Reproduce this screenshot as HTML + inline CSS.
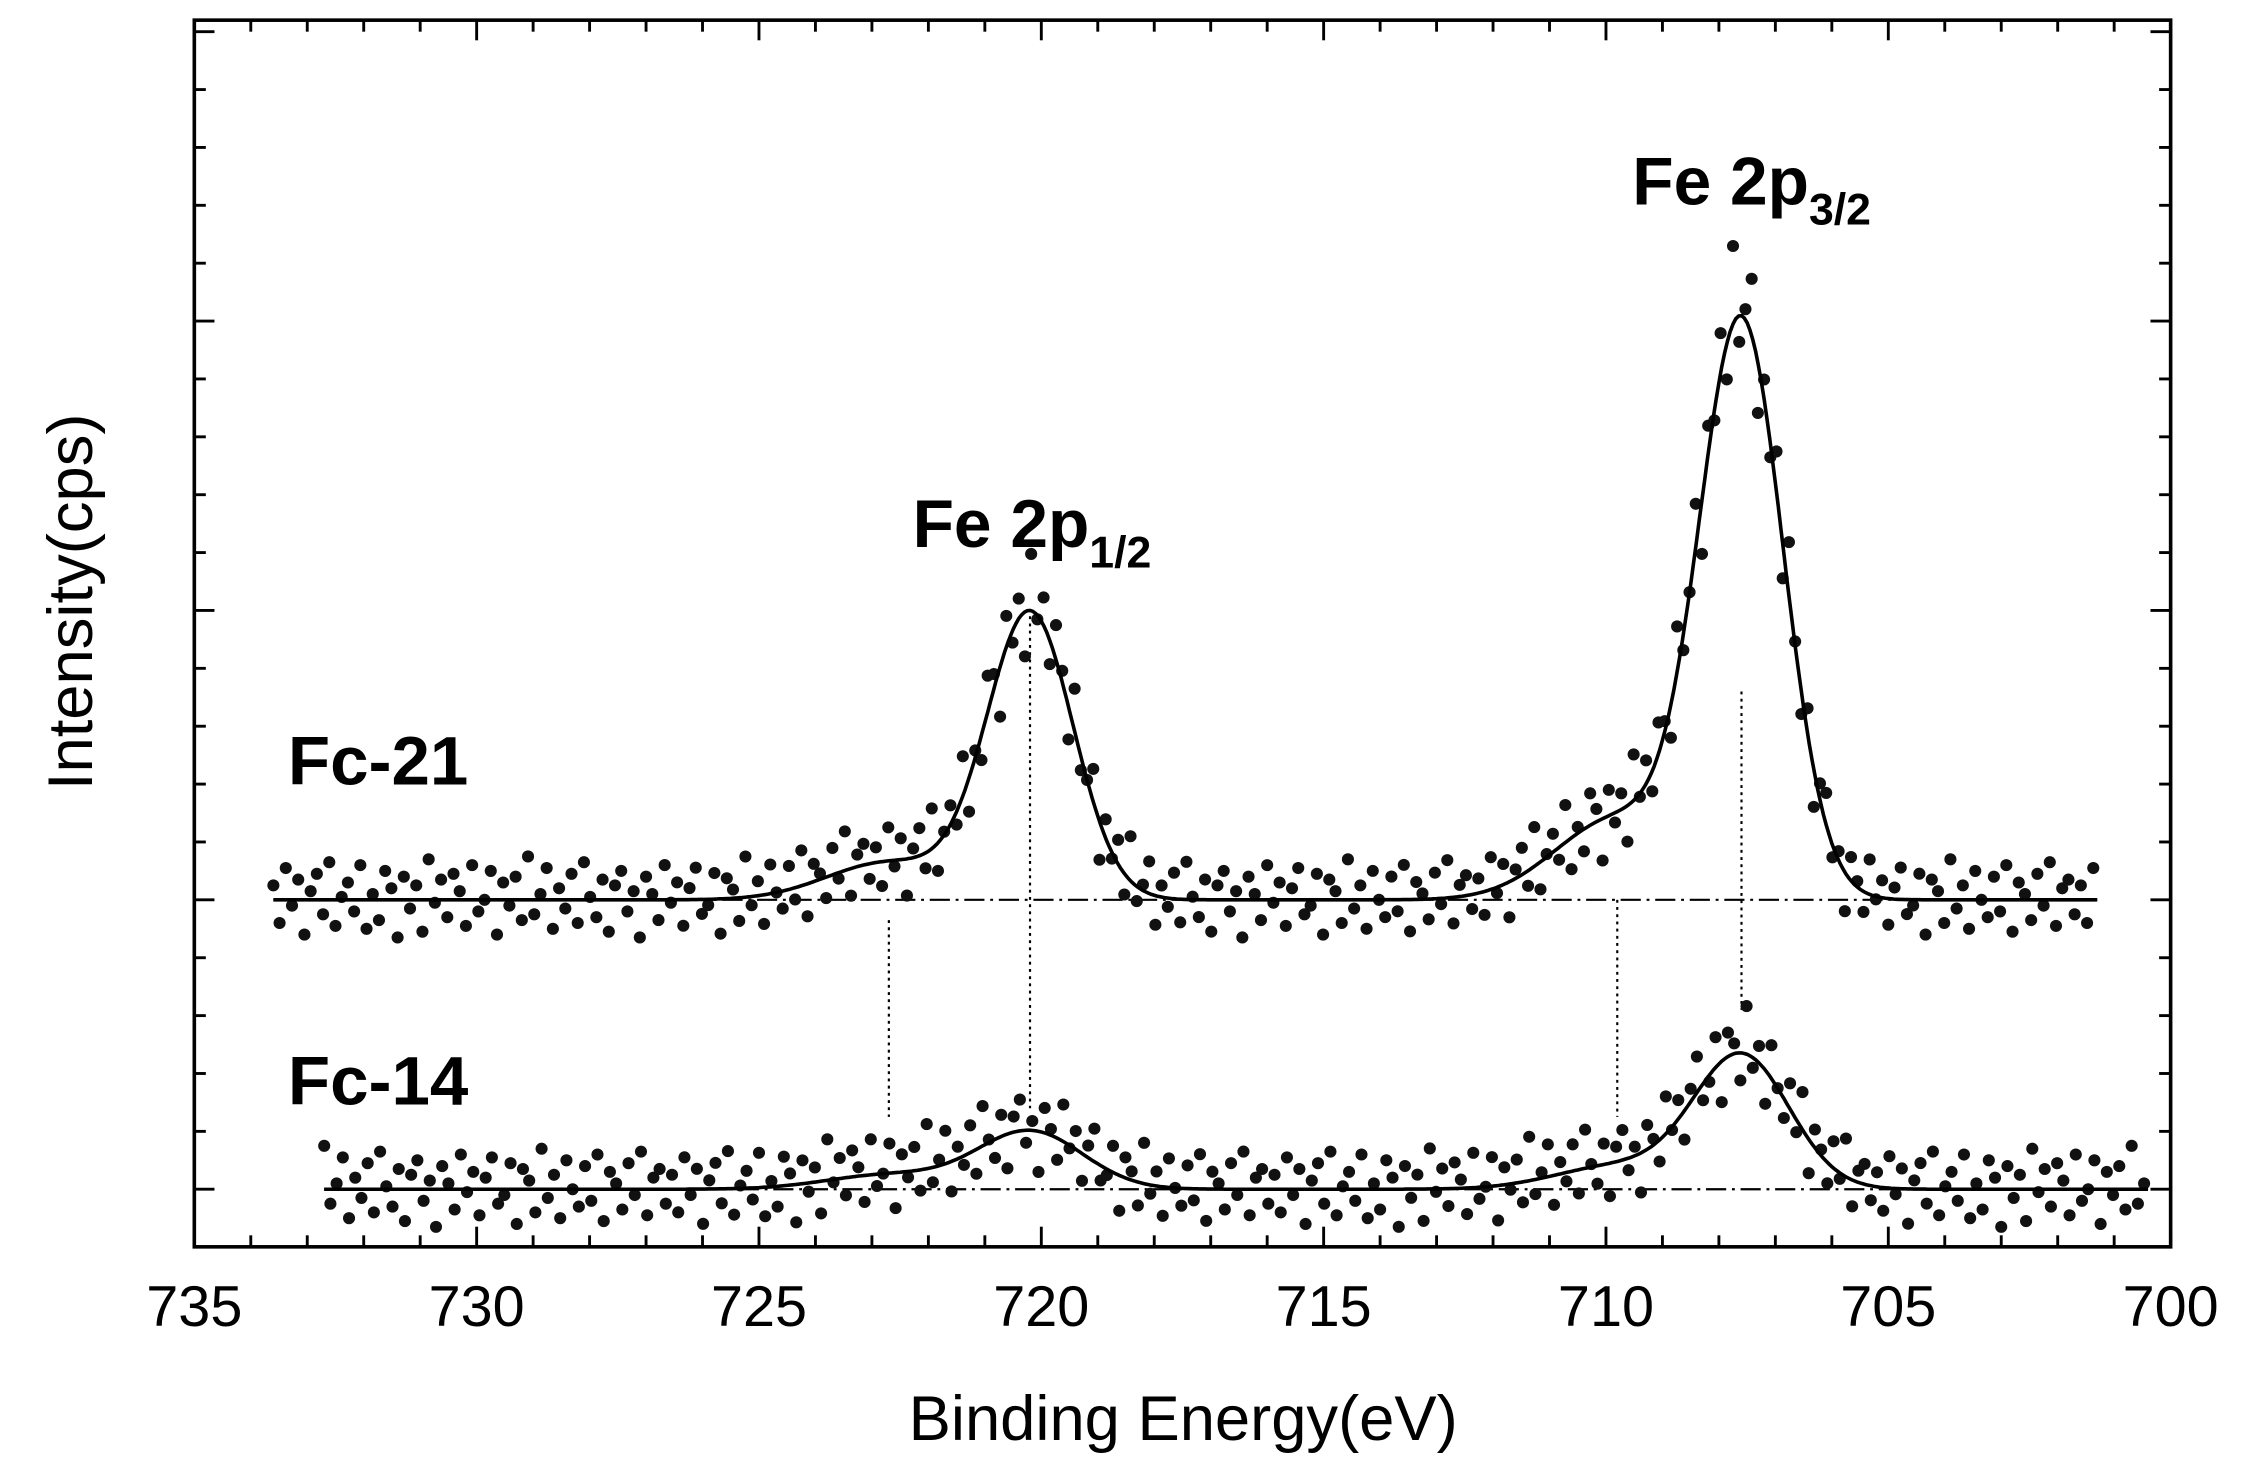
<!DOCTYPE html>
<html><head><meta charset="utf-8"><style>
html,body{margin:0;padding:0;background:#fff;}
svg{display:block;font-family:"Liberation Sans",Arial,sans-serif;}
</style></head><body>
<svg id="chart" width="2257" height="1470" viewBox="0 0 1568 1021" preserveAspectRatio="none" xmlns="http://www.w3.org/2000/svg">
<rect x="0" y="0" width="1568" height="1021" fill="#fff"/>
<g id="marks"></g>
<rect x="135" y="14" width="1373" height="852" fill="none" stroke="#000" stroke-width="2.5"/>
<g id="ticks"></g>
<text x="822" y="1000" font-size="44" text-anchor="middle">Binding Energy(eV)</text>
<text transform="translate(64,418) rotate(-90)" font-size="44" text-anchor="middle">Intensity(cps)</text>
<text x="634" y="380" font-size="47" font-weight="bold">Fe 2p<tspan font-size="31" dy="14">1/2</tspan></text>
<text x="1134" y="142" font-size="47" font-weight="bold">Fe 2p<tspan font-size="31" dy="14">3/2</tspan></text>
<text x="200" y="545" font-size="48" font-weight="bold">Fc-21</text>
<text x="200" y="767" font-size="48" font-weight="bold">Fc-14</text>
</svg>
<script>
const xTicks = [735,730,725,720,715,710,705,700];
const peakCenters = [707.6, 709.8, 720.2, 722.7];
const fc21Heights = [1.98, 0.28, 0.99, 0.13];
const fc21Widths = [1.75, 2.6, 1.8, 2.6];
const fc14Heights = [0.46, 0.08, 0.20, 0.05];
const fc14Widths = [2.0, 2.6, 2.2, 2.6];
const fc21Offset = 1;
const fc14Offset = 0;
const fc21Range = [733.6, 701.3];
const fc14Range = [732.7, 700.4];
const guideLines = [[722.7,0.93,0.25],[720.2,1.98,0.28],[709.8,1.0,0.25],[707.6,1.72,0.62]];
const noise = [0.05,-0.08,0.11,-0.02,0.07,-0.12,0.03,0.09,-0.05,0.13,-0.09,0.01,0.06,-0.04,0.12,-0.1,0.02,-0.07,0.1,0.04,-0.13,0.08,-0.03,0.05,-0.11,0.14,-0.01,0.07,-0.06,0.09,0.03,-0.09,0.12,-0.04,0.0,0.1,-0.12,0.06,-0.02,0.08,-0.07,0.15,-0.05,0.02,0.11,-0.1,0.04,-0.03,0.09,-0.08,0.13,0.01,-0.06,0.07,-0.11,0.05,0.1,-0.04,0.03,-0.13,0.08,0.02,-0.07,0.12,-0.01,0.06,-0.09,0.04,0.11,-0.05,-0.02,0.09,-0.12,0.07,0.03,-0.08,0.14,-0.03,0.05,-0.1,0.1,0.0,-0.06,0.08,-0.04,0.12,-0.11,0.06,0.02,-0.07,0.09,-0.02,0.13,-0.09,0.04,0.07,-0.05];

const X0=135, X1=1508, E0=735, E1=700;
const xs = e => X0 + (E0-e)*(X1-X0)/(E0-E1);
const ys = v => 826 - v*201;
const NS="http://www.w3.org/2000/svg";
const marks=document.getElementById('marks');
const ticks=document.getElementById('ticks');
function mk(tag,attrs,parent){const el=document.createElementNS(NS,tag);for(const k in attrs)el.setAttribute(k,attrs[k]);parent.appendChild(el);return el;}
function fit(e,h,w){let s=0;for(let i=0;i<peakCenters.length;i++){const sg=w[i]/2.355;s+=h[i]*Math.exp(-Math.pow(e-peakCenters[i],2)/(2*sg*sg));}return s;}

guideLines.forEach(g=>{
  const l=mk('line',{x1:xs(g[0]),x2:xs(g[0]),y1:ys(g[1]),y2:ys(g[2]),stroke:'#000','stroke-width':1.5,'stroke-dasharray':'2,3'},marks);
  
  
});

function series(name,off,h,w,range,nShift){
  const bl=mk('line',{x1:xs(range[0]),x2:xs(range[1]),y1:ys(off),y2:ys(off),stroke:'#000','stroke-width':1.5,'stroke-dasharray':'14,4,2,4'},marks);
  
  
  let i=0;
  for(let e=range[0];e>=range[1];e-=0.11,i++){
    const f=fit(e,h,w);
    const n=noise[(i+nShift)%noise.length]*(1+f*0.4);
    const c=mk('circle',{cx:xs(e),cy:ys(off+f+n),r:4.2,fill:'#111'},marks);
    
    
  }
  let d='';
  for(let e=range[0];e>=range[1];e-=0.05){d+=(d?'L':'M')+xs(e).toFixed(1)+','+ys(off+fit(e,h,w)).toFixed(1);}
  const p=mk('path',{d:d,fill:'none',stroke:'#000','stroke-width':2.5},marks);
  
  
}
series('fc-21',fc21Offset,fc21Heights,fc21Widths,fc21Range,0);
series('fc-14',fc14Offset,fc14Heights,fc14Widths,fc14Range,41);

for(let e=735;e>=700;e--){
  const major=(e%5===0), len=major?14:8;
  mk('line',{x1:xs(e),x2:xs(e),y1:866,y2:866-len,stroke:'#000','stroke-width':2},ticks);
  mk('line',{x1:xs(e),x2:xs(e),y1:14,y2:14+len,stroke:'#000','stroke-width':2},ticks);
}
xTicks.forEach(t=>{
  const tx=mk('text',{x:xs(t),y:921,'font-size':40,'text-anchor':'middle'},ticks);
  tx.textContent=t;
  
  
});
for(let k=-1;k<=20;k++){
  const v=k*0.2, y=ys(v);
  if(y<16||y>864) continue;
  const major=(k%5===0), len=major?14:8;
  mk('line',{x1:135,x2:135+len,y1:y,y2:y,stroke:'#000','stroke-width':2},ticks);
  mk('line',{x1:1508,x2:1508-len,y1:y,y2:y,stroke:'#000','stroke-width':2},ticks);
}
</script>
</body></html>
